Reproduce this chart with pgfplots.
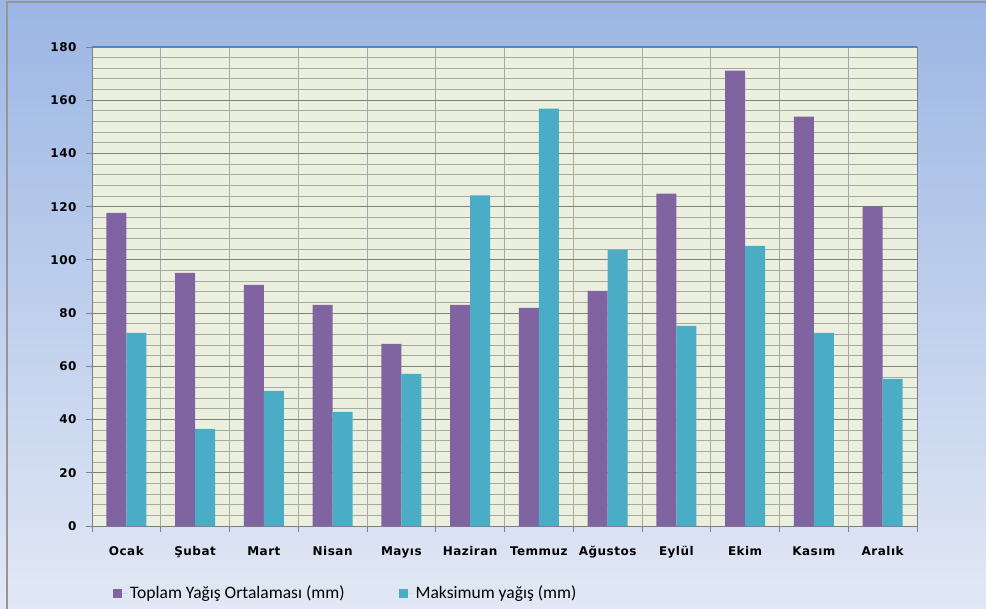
\documentclass[border=0pt]{standalone}
\usepackage{fontspec}
\setmainfont{Carlito}
\newfontfamily\tickfont{DejaVu Sans}[LetterSpace=4]
\usepackage{pgfplots}
\usepackage{pgfplotstable}
\pgfplotsset{compat=1.18}

\definecolor{toplam}{RGB}{128,100,162}
\definecolor{maks}{RGB}{75,172,198}
\definecolor{plotbg}{RGB}{235,240,222}
\definecolor{bgtop}{RGB}{155,182,228}
\definecolor{bgbot}{RGB}{226,232,245}
\definecolor{majgrid}{RGB}{128,128,128}
\definecolor{mingrid}{RGB}{168,168,168}
\definecolor{frameline}{RGB}{150,150,150}
\definecolor{axisblue}{RGB}{79,129,189}

% aylik yagis (mm)
\pgfplotstableread{
idx toplam maks
0  117.7  72.6
1   95.1  36.5
2   90.6  50.8
3   83.1  42.9
4   68.4  57.2
5   83.1 124.2
6   82.0 156.8
7   88.4 103.8
8  124.9  75.2
9  171.1 105.3
10 153.8  72.6
11 120.1  55.3
}\yagis

\begin{document}
\begin{tikzpicture}
\useasboundingbox (-92bp,-83bp) rectangle (894bp,526bp);
\shade[top color=bgtop, bottom color=bgbot] (-92bp,-83bp) rectangle (894bp,526bp);
\draw[frameline, line width=1.5bp] (-85bp,-83bp) -- (-85bp,524bp) -- (894bp,524bp);
\begin{axis}[
  at={(0,0)}, anchor=south west,
  scale only axis, width=825bp, height=479bp,
  xmin=-0.5, xmax=11.5, ymin=0, ymax=180,
  axis background/.style={fill=plotbg},
  ybar=0pt, bar width=20bp,
  xtick={0,...,11},
  xticklabels={Ocak,Şubat,Mart,Nisan,Mayıs,Haziran,Temmuz,Ağustos,Eylül,Ekim,Kasım,Aralık},
  minor xtick={-0.5,0.5,...,11.5},
  ytick={0,20,...,180}, minor y tick num=4,
  xtick pos=bottom, ytick pos=left,
  tick align=outside,
  major x tick style={draw=none},
  minor y tick style={draw=none},
  major tick length=6bp, minor tick length=6bp,
  tick style={majgrid, line width=0.9bp},
  ymajorgrids, yminorgrids, xminorgrids,
  major grid style={majgrid, line width=0.9bp},
  minor grid style={mingrid, line width=0.9bp},
  axis line style={majgrid, line width=0.9bp},
  ticklabel style={font=\tickfont\bfseries\fontsize{12bp}{14bp}\selectfont, text=black},
  /pgf/number format/assume math mode=true,
  yticklabel style={xshift=-6bp},
  xticklabel style={yshift=-11bp},
  legend style={at={(0.0255,-0.14)}, anchor=west, draw=none, fill=none,
    inner sep=0pt, font=\fontsize{17.5bp}{19bp}\selectfont,
    /tikz/every even column/.append style={column sep=52bp}},
  legend columns=2,
  legend cell align=left,
  legend image code/.code={\fill[#1] (0bp,-4.5bp) rectangle (9bp,4.5bp); \path (0bp,0bp) -- (15bp,0bp);},
]
\addplot[fill=toplam, draw=none] table[x=idx,y=toplam]{\yagis};
\addplot[fill=maks, draw=none] table[x=idx,y=maks]{\yagis};
\draw[axisblue, line width=1bp] (rel axis cs:0,1) -- (rel axis cs:1,1) -- (rel axis cs:1,0);
\legend{Toplam Yağış Ortalaması (mm), Maksimum yağış (mm)}
\end{axis}
\end{tikzpicture}
\end{document}
